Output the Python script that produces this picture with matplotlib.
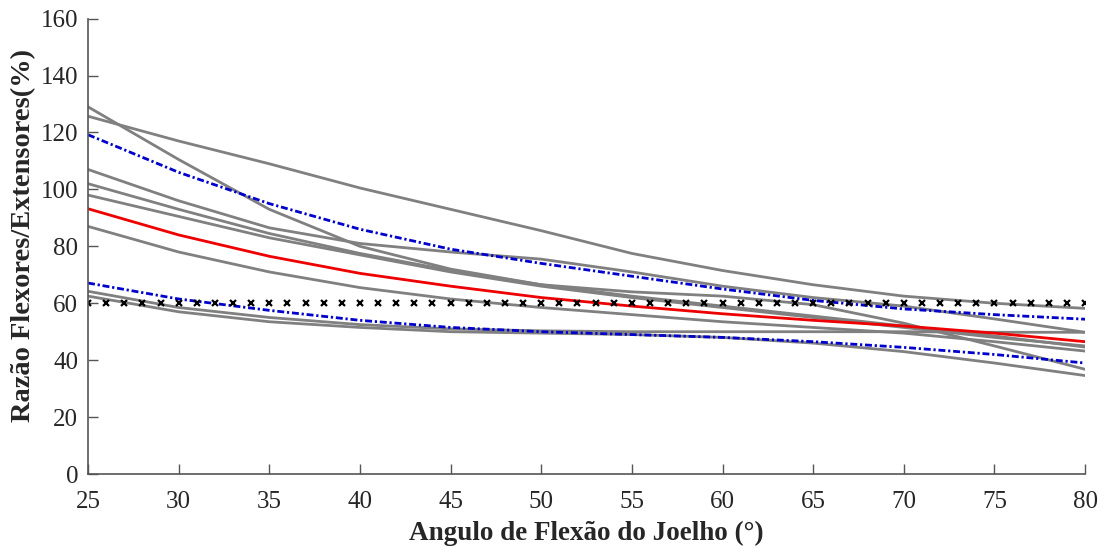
import numpy as np
import matplotlib.pyplot as plt

plt.rcParams['font.family'] = ['Liberation Serif', 'DejaVu Serif']

# knee flexion angle (deg)
angles = [25, 30, 35, 40, 45, 50, 55, 60, 65, 70, 75, 80]

# individual subject curves (gray)
subj_a = [129, 110.5, 93, 80, 72, 66.5, 64, 62.5, 59.5, 53, 45, 36.8]
subj_b = [125.7, 117, 109, 100.5, 93, 85.5, 77.5, 71.5, 66.5, 62.5, 60, 58.2]
subj_c = [107, 96, 86.5, 81, 78, 75.5, 71, 66, 62, 59, 54.5, 49.8]
subj_d = [102, 93, 84.5, 77.5, 71.5, 66.5, 62.5, 59, 55.5, 52, 48.5, 44.6]
subj_h = [98, 90.5, 83, 77, 71, 66, 62, 58.5, 55, 51.5, 48, 45]
subj_e = [87, 78, 71, 65.5, 61.5, 58.5, 56, 53.5, 51.5, 49.5, 46.5, 43.2]
subj_f = [64.2, 58.5, 55, 52.5, 51, 50.3, 50, 50, 50, 50, 49.8, 49.8]
subj_g = [62.5, 57, 53.5, 51.5, 50, 49.5, 49, 48, 46, 43, 39, 34.6]
subjects = [subj_a, subj_b, subj_c, subj_d, subj_h, subj_e, subj_f, subj_g]

# mean and +/- band
mean_curve = [93.2, 84, 76.5, 70.5, 66, 62, 59, 56.3, 54, 52, 49.5, 46.5]
upper_curve = [119.2, 106, 95, 86, 79, 74, 69.5, 65, 61, 58, 56, 54.4]
lower_curve = [67.1, 61.5, 57.5, 54, 51.5, 50, 49, 48, 46.5, 44.5, 42, 39]

# reference ratio 60%
ref_x = list(range(25, 81))
ref_y = [60] * len(ref_x)

fig = plt.figure(figsize=(11.09, 5.48), dpi=100)
ax = fig.add_axes([0.0794, 0.135, 0.899, 0.831])

for s in subjects:
    ax.plot(angles, s, color='#808080', lw=2)
ax.plot(angles, upper_curve, color='#0000cc', lw=2, dashes=(2.5, 1, 0.8, 1))
ax.plot(angles, lower_curve, color='#0000cc', lw=2, dashes=(2.5, 1, 0.8, 1))
ax.plot(angles, mean_curve, color='#ee0000', lw=2)
ax.plot(ref_x, ref_y, ls='none', marker='x', color='black', ms=4.5, mew=1.6)

ax.set_xlim(25, 80)
ax.set_ylim(0, 160)
ax.set_xticks(range(25, 81, 5))
ax.set_yticks(range(0, 161, 20))
ax.spines['top'].set_visible(False)
ax.spines['right'].set_visible(False)
for sp in ['left', 'bottom']:
    ax.spines[sp].set_color('#555555')
    ax.spines[sp].set_linewidth(1.2)
ax.tick_params(direction='in', length=7, width=1, colors='#555555',
               labelcolor='#262626', labelsize=18)
ax.tick_params(axis='x', pad=12)
ax.tick_params(axis='y', pad=7)

ax.set_xlabel('Angulo de Flexão do Joelho (°)', fontsize=19.5,
              fontweight='bold', color='#262626', labelpad=6)
ax.set_ylabel('Razão Flexores/Extensores(%)', fontsize=20.5,
              fontweight='bold', color='#262626')
ax.yaxis.set_label_coords(-0.052, 0.523)

fig.savefig('out.png', dpi=100)
